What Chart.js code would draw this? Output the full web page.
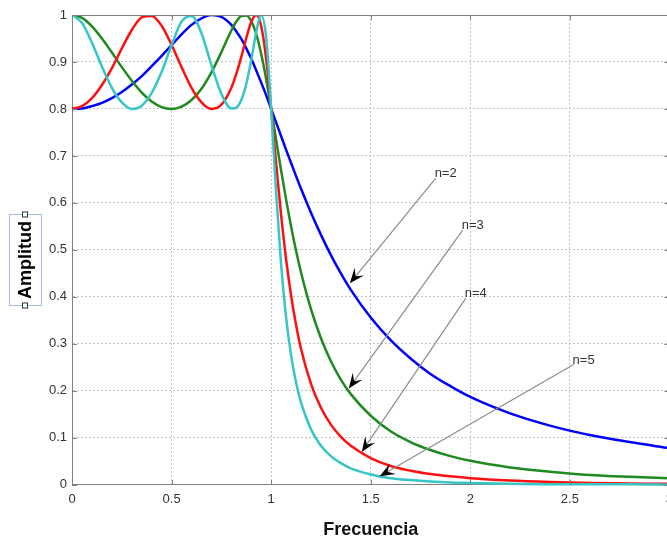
<!DOCTYPE html>
<html>
<head>
<meta charset="utf-8">
<script src="https://cdn.jsdelivr.net/npm/chart.js@4.4.1/dist/chart.umd.min.js"></script>
<style>
  html, body { margin: 0; padding: 0; background: #ffffff; overflow: hidden; }
  #wrap { width: 667px; height: 542px; overflow: hidden; position: relative; }
  canvas { display: block; }
</style>
</head>
<body>
<div id="wrap"><canvas id="c" width="680" height="542"></canvas></div>
<script>
// Normalised frequency samples
const freq = [0, 0.05, 0.1, 0.15, 0.2, 0.25, 0.3, 0.35, 0.4, 0.45, 0.5, 0.55, 0.6, 0.65, 0.7, 0.75, 0.8,
  0.825, 0.85, 0.875, 0.9, 0.925, 0.95, 0.975, 1,
  1.025, 1.05, 1.075, 1.1, 1.125, 1.15, 1.2, 1.25, 1.3, 1.35, 1.4,
  1.5, 1.6, 1.7, 1.8, 1.9, 2, 2.2, 2.4, 2.6, 2.8, 3];

// Amplitude response for each filter order
const ampN2 = [0.800, 0.801, 0.806, 0.813, 0.823, 0.836, 0.852, 0.870, 0.891, 0.913, 0.936, 0.959, 0.979, 0.993, 1.000, 0.996, 0.979,
  0.965, 0.949, 0.929, 0.907, 0.882, 0.856, 0.829, 0.800,
  0.771, 0.742, 0.713, 0.685, 0.657, 0.630, 0.579, 0.532, 0.489, 0.450, 0.415,
  0.356, 0.308, 0.269, 0.236, 0.210, 0.187, 0.152, 0.126, 0.106, 0.091, 0.078];
const ampN3 = [1.000, 0.994, 0.976, 0.950, 0.920, 0.889, 0.860, 0.835, 0.816, 0.804, 0.800, 0.805, 0.819, 0.843, 0.878, 0.921, 0.967,
  0.986, 0.998, 0.999, 0.987, 0.960, 0.917, 0.863, 0.800,
  0.734, 0.669, 0.607, 0.550, 0.498, 0.452, 0.374, 0.312, 0.263, 0.224, 0.193,
  0.147, 0.114, 0.091, 0.074, 0.061, 0.051, 0.037, 0.028, 0.021, 0.017, 0.014];
const ampN4 = [0.800, 0.806, 0.823, 0.851, 0.887, 0.929, 0.968, 0.995, 0.998, 0.977, 0.936, 0.889, 0.845, 0.814, 0.800, 0.809, 0.845,
  0.875, 0.911, 0.951, 0.985, 1.000, 0.976, 0.906, 0.800,
  0.683, 0.574, 0.480, 0.403, 0.340, 0.289, 0.215, 0.164, 0.128, 0.102, 0.083,
  0.057, 0.040, 0.030, 0.023, 0.018, 0.014, 0.009, 0.006, 0.004, 0.003, 0.002];
const ampN5 = [1.000, 0.983, 0.941, 0.890, 0.845, 0.814, 0.800, 0.807, 0.834, 0.879, 0.936, 0.986, 0.998, 0.961, 0.893, 0.832, 0.801,
  0.803, 0.819, 0.853, 0.904, 0.964, 1.000, 0.951, 0.800,
  0.620, 0.468, 0.356, 0.276, 0.218, 0.175, 0.118, 0.083, 0.061, 0.046, 0.035,
  0.022, 0.014, 0.010, 0.007, 0.005, 0.004, 0.002, 0.001, 0.001, 0.001, 0.000];

const seriesNames = ['n=2', 'n=3', 'n=4', 'n=5'];
const seriesColors = ['#0000ff', '#1f8a1f', '#ff1010', '#36c6c6'];

const xTicks = [0, 0.5, 1, 1.5, 2, 2.5, 3];
const yTicks = [0, 0.1, 0.2, 0.3, 0.4, 0.5, 0.6, 0.7, 0.8, 0.9, 1];

// Callouts: label, start of the leader (freq, amp), arrow tip (freq, amp)
const calloutLabels = ['n=2', 'n=3', 'n=4', 'n=5'];
const calloutFrom = [[1.826, 0.652], [1.962, 0.542], [1.977, 0.397], [2.519, 0.256]];
const calloutTo = [[1.395, 0.429], [1.390, 0.205], [1.455, 0.070], [1.545, 0.018]];

const FONT = '"Liberation Sans", Arial, Helvetica, sans-serif';

const series = [ampN2, ampN3, ampN4, ampN5];
const datasets = series.map((vals, i) => ({
  label: seriesNames[i],
  data: freq.map((f, k) => ({ x: f, y: vals[k] })),
  borderColor: seriesColors[i],
  borderWidth: 2.5,
  pointRadius: 0,
  fill: false,
  cubicInterpolationMode: 'monotone',
  order: series.length - i,
  clip: { left: 0, top: 0, right: 0, bottom: 2 }
}));

// Box edges and inward tick marks
const framePlugin = {
  id: 'frame',
  afterDatasetsDraw(chart) {
    const { ctx, chartArea: a, scales: { x, y } } = chart;
    ctx.save();
    ctx.strokeStyle = '#808080';
    ctx.lineWidth = 1;
    ctx.beginPath();
    ctx.moveTo(a.left, Math.round(a.top) + 0.5);
    ctx.lineTo(a.right, Math.round(a.top) + 0.5);
    ctx.moveTo(Math.round(a.right) - 0.5, a.top);
    ctx.lineTo(Math.round(a.right) - 0.5, a.bottom);
    xTicks.forEach(v => {
      const px = Math.round(x.getPixelForValue(v)) + 0.5;
      ctx.moveTo(px, a.bottom); ctx.lineTo(px, a.bottom - 5);
      ctx.moveTo(px, a.top); ctx.lineTo(px, a.top + 5);
    });
    yTicks.forEach(v => {
      const py = Math.round(y.getPixelForValue(v)) + 0.5;
      ctx.moveTo(a.left, py); ctx.lineTo(a.left + 5, py);
      ctx.moveTo(a.right, py); ctx.lineTo(a.right - 5, py);
    });
    ctx.stroke();
    ctx.restore();
  }
};

// Leader lines with arrowheads, and the vertical axis caption
const notesPlugin = {
  id: 'notes',
  afterDraw(chart) {
    const { ctx, chartArea: a, scales: { x, y } } = chart;
    ctx.save();
    calloutLabels.forEach((txt, i) => {
      const x0 = x.getPixelForValue(calloutFrom[i][0]);
      const y0 = y.getPixelForValue(calloutFrom[i][1]);
      const x1 = x.getPixelForValue(calloutTo[i][0]);
      const y1 = y.getPixelForValue(calloutTo[i][1]);
      const ang = Math.atan2(y1 - y0, x1 - x0);
      const dx = Math.cos(ang), dy = Math.sin(ang);
      const len = 15, half = 6, notch = 9;
      ctx.strokeStyle = '#8c8c8c';
      ctx.lineWidth = 1.2;
      ctx.beginPath();
      ctx.moveTo(x0, y0);
      ctx.lineTo(x1 - dx * notch, y1 - dy * notch);
      ctx.stroke();
      ctx.fillStyle = '#000000';
      ctx.beginPath();
      ctx.moveTo(x1, y1);
      ctx.lineTo(x1 - dx * len - dy * half, y1 - dy * len + dx * half);
      ctx.lineTo(x1 - dx * notch, y1 - dy * notch);
      ctx.lineTo(x1 - dx * len + dy * half, y1 - dy * len - dx * half);
      ctx.closePath();
      ctx.fill();
      ctx.fillStyle = '#333333';
      ctx.font = '13px ' + FONT;
      ctx.textAlign = 'left';
      ctx.textBaseline = 'alphabetic';
      ctx.fillText(txt, x0 - 1, y0 - 1);
    });

    // vertical caption with its selection frame
    const cx = a.left - 47;
    const cy = (a.top + a.bottom) / 2 + 10;
    ctx.font = 'bold 18px ' + FONT;
    const w = ctx.measureText('Amplitud').width;
    ctx.save();
    ctx.translate(cx, cy);
    ctx.rotate(-Math.PI / 2);
    ctx.fillStyle = '#000000';
    ctx.textAlign = 'center';
    ctx.textBaseline = 'middle';
    ctx.fillText('Amplitud', 0, 1);
    ctx.restore();
    const top = Math.round(cy - w / 2 - 7) + 0.5, bot = Math.round(cy + w / 2 + 6) + 0.5;
    const lft = Math.round(cx - 16) + 0.5, rgt = Math.round(cx + 16) + 0.5;
    ctx.strokeStyle = '#a9bdf2';
    ctx.lineWidth = 1;
    ctx.strokeRect(lft, top, rgt - lft, bot - top);
    ctx.fillStyle = '#ffffff';
    ctx.strokeStyle = '#333333';
    [top, bot].forEach(hy => {
      ctx.fillRect(Math.round(cx) - 2.5, hy - 2.5, 5, 5);
      ctx.strokeRect(Math.round(cx) - 2.5, hy - 2.5, 5, 5);
    });
    ctx.restore();
  }
};

new Chart(document.getElementById('c'), {
  type: 'line',
  data: { datasets },
  options: {
    responsive: false,
    animation: false,
    devicePixelRatio: 1,
    layout: { padding: { left: 44, top: 15, right: 9, bottom: 1 } },
    plugins: { legend: { display: false }, tooltip: { enabled: false } },
    scales: {
      x: {
        type: 'linear', min: 0, max: 3,
        afterBuildTicks: s => { s.ticks = xTicks.map(v => ({ value: v })); },
        ticks: { color: '#333333', font: { family: FONT, size: 13 }, padding: 7, maxRotation: 0,
          callback: v => String(v) },
        grid: { color: '#c4c4c4', lineWidth: 1, drawTicks: false },
        border: { color: '#808080', width: 1, dash: [2, 2] },
        title: { display: true, text: 'Frecuencia', color: '#111111',
          font: { family: FONT, size: 18, weight: 'bold' }, padding: { top: 5, bottom: 0 } }
      },
      y: {
        type: 'linear', min: 0, max: 1,
        afterBuildTicks: s => { s.ticks = yTicks.map(v => ({ value: v })); },
        ticks: { color: '#333333', font: { family: FONT, size: 13 }, padding: 5,
          callback: v => String(v) },
        grid: { color: '#c4c4c4', lineWidth: 1, drawTicks: false },
        border: { color: '#808080', width: 1, dash: [2, 2] }
      }
    }
  },
  plugins: [framePlugin, notesPlugin]
});
</script>
</body>
</html>
